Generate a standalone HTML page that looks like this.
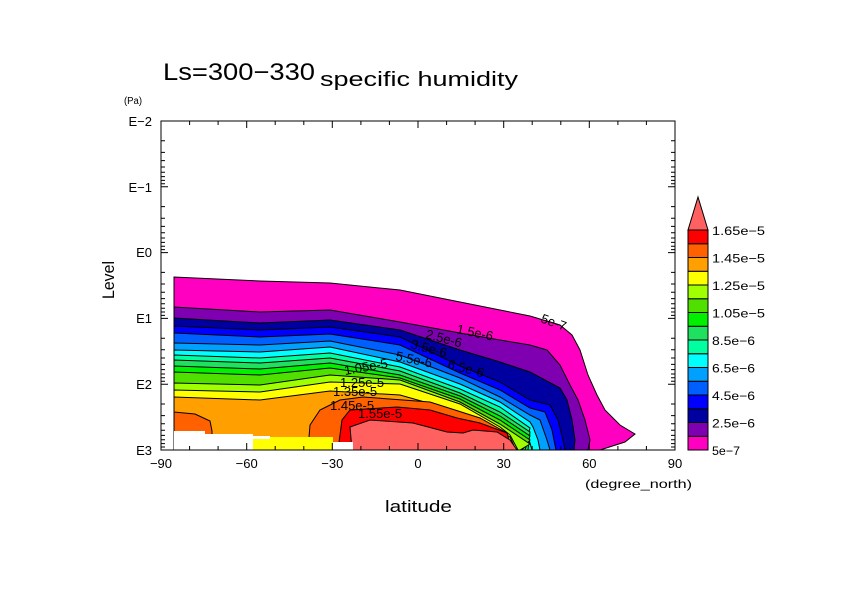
<!DOCTYPE html>
<html><head><meta charset="utf-8"><style>
body{margin:0;background:#fff}
svg{display:block;font-family:"Liberation Sans",sans-serif}
</style></head><body>
<svg id="s" width="842" height="595" viewBox="0 0 842 595" xmlns="http://www.w3.org/2000/svg">
<rect width="842" height="595" fill="#fff"/>
<g id="fills"></g>
<g id="overlay">
<rect x="174" y="431" width="31" height="20" fill="#fff"/>
<rect x="205" y="434" width="48" height="17" fill="#fff"/>
<rect x="253" y="437" width="80" height="13" fill="#ffff00"/>
<rect x="253" y="436" width="17" height="3" fill="#fff"/>
<rect x="333" y="442" width="20" height="9" fill="#fff"/>
</g>
<g font-size="13" fill="#000">
<text x="540" y="322" transform="rotate(20 540 322)">5e-7</text>
<text x="456" y="333" transform="rotate(12 456 333)">1.5e-6</text>
<text x="425" y="338" transform="rotate(15 425 338)">2.5e-6</text>
<text x="410" y="348" transform="rotate(15 410 348)">3.5e-6</text>
<text x="447" y="368" transform="rotate(15 447 368)">6.5e-6</text>
<text x="395" y="360" transform="rotate(12 395 360)">5.5e-6</text>
<text x="345" y="375" transform="rotate(-10 345 375)">1.05e-5</text>
<text x="340" y="387">1.25e-5</text>
<text x="333" y="396">1.35e-5</text>
<text x="330" y="410">1.45e-5</text>
<text x="358" y="418">1.55e-5</text>
</g>
<g stroke="#000" fill="none" stroke-width="1">
<rect x="161" y="121" width="514" height="329"/>
<path d="M161,450v-7M189.6,450v-4M218.1,450v-4M246.7,450v-7M275.2,450v-4M303.8,450v-4M332.3,450v-7M360.9,450v-4M389.4,450v-4M418,450v-7M446.6,450v-4M475.1,450v-4M503.7,450v-7M532.2,450v-4M560.8,450v-4M589.3,450v-7M617.9,450v-4M646.4,450v-4M675,450v-7"/>
<path transform="translate(0,571) scale(1,-1)" d="M161,450v-7M189.6,450v-4M218.1,450v-4M246.7,450v-7M275.2,450v-4M303.8,450v-4M332.3,450v-7M360.9,450v-4M389.4,450v-4M418,450v-7M446.6,450v-4M475.1,450v-4M503.7,450v-7M532.2,450v-4M560.8,450v-4M589.3,450v-7M617.9,450v-4M646.4,450v-4M675,450v-7"/>
<path d="M161,121h7M161,140.8h4M161,152.4h4M161,160.6h4M161,167h4M161,172.2h4M161,176.6h4M161,180.4h4M161,183.8h4
M161,186.8h7M161,206.6h4M161,218.2h4M161,226.4h4M161,232.8h4M161,238h4M161,242.4h4M161,246.2h4M161,249.6h4
M161,252.6h7M161,272.4h4M161,284h4M161,292.2h4M161,298.6h4M161,303.8h4M161,308.2h4M161,312h4M161,315.4h4
M161,318.4h7M161,338.2h4M161,349.8h4M161,358h4M161,364.4h4M161,369.6h4M161,374h4M161,377.8h4M161,381.2h4
M161,384.2h7M161,404h4M161,415.6h4M161,423.8h4M161,430.2h4M161,435.4h4M161,439.8h4M161,443.6h4M161,447h4M161,450h7"/>
<path transform="translate(836,0) scale(-1,1)" d="M161,121h7M161,140.8h4M161,152.4h4M161,160.6h4M161,167h4M161,172.2h4M161,176.6h4M161,180.4h4M161,183.8h4
M161,186.8h7M161,206.6h4M161,218.2h4M161,226.4h4M161,232.8h4M161,238h4M161,242.4h4M161,246.2h4M161,249.6h4
M161,252.6h7M161,272.4h4M161,284h4M161,292.2h4M161,298.6h4M161,303.8h4M161,308.2h4M161,312h4M161,315.4h4
M161,318.4h7M161,338.2h4M161,349.8h4M161,358h4M161,364.4h4M161,369.6h4M161,374h4M161,377.8h4M161,381.2h4
M161,384.2h7M161,404h4M161,415.6h4M161,423.8h4M161,430.2h4M161,435.4h4M161,439.8h4M161,443.6h4M161,447h4M161,450h7"/>
</g>
<g font-size="13" fill="#000">
<text x="163" y="80" font-size="24" textLength="152" lengthAdjust="spacingAndGlyphs">Ls=300−330</text>
<text x="320" y="86" font-size="20" textLength="198" lengthAdjust="spacingAndGlyphs">specific humidity</text>
<text x="124" y="104" font-size="10" textLength="18" lengthAdjust="spacingAndGlyphs">(Pa)</text>
<text x="114" y="280" font-size="17" transform="rotate(-90 114 280)" text-anchor="middle" textLength="38" lengthAdjust="spacingAndGlyphs">Level</text>
<text x="385" y="512" font-size="17" textLength="67" lengthAdjust="spacingAndGlyphs">latitude</text>
<text x="585" y="488" font-size="12" textLength="107" lengthAdjust="spacingAndGlyphs">(degree_north)</text>
<g text-anchor="middle">
<text x="161" y="468">−90</text><text x="246.7" y="468">−60</text><text x="332.3" y="468">−30</text>
<text x="418" y="468">0</text><text x="503.7" y="468">30</text><text x="589.3" y="468">60</text><text x="675" y="468">90</text>
</g>
<g text-anchor="end">
<text x="152" y="126">E−2</text><text x="152" y="192">E−1</text><text x="152" y="257">E0</text>
<text x="152" y="323">E1</text><text x="152" y="389">E2</text><text x="152" y="455">E3</text>
</g>
</g>
<g stroke="#000" stroke-width="1">
<rect x="688" y="436.25" width="20" height="13.75" fill="#ff00c0"/>
<rect x="688" y="422.5" width="20" height="13.75" fill="#7f00b0"/>
<rect x="688" y="408.75" width="20" height="13.75" fill="#0000a0"/>
<rect x="688" y="395" width="20" height="13.75" fill="#0000ff"/>
<rect x="688" y="381.25" width="20" height="13.75" fill="#0060ff"/>
<rect x="688" y="367.5" width="20" height="13.75" fill="#00a0ff"/>
<rect x="688" y="353.75" width="20" height="13.75" fill="#00ffff"/>
<rect x="688" y="340" width="20" height="13.75" fill="#00ffa0"/>
<rect x="688" y="326.25" width="20" height="13.75" fill="#20e060"/>
<rect x="688" y="312.5" width="20" height="13.75" fill="#00f000"/>
<rect x="688" y="298.75" width="20" height="13.75" fill="#50e000"/>
<rect x="688" y="285" width="20" height="13.75" fill="#a0ff00"/>
<rect x="688" y="271.25" width="20" height="13.75" fill="#ffff00"/>
<rect x="688" y="257.5" width="20" height="13.75" fill="#ffa000"/>
<rect x="688" y="243.75" width="20" height="13.75" fill="#ff6000"/>
<rect x="688" y="230" width="20" height="13.75" fill="#ff0000"/>
<path d="M688,230L708,230L698,197Z" fill="#ff6060"/>
</g>
<g font-size="12" fill="#000">
<text x="712" y="455" textLength="28" lengthAdjust="spacingAndGlyphs">5e−7</text>
<text x="712" y="427.5" textLength="43" lengthAdjust="spacingAndGlyphs">2.5e−6</text>
<text x="712" y="400" textLength="43" lengthAdjust="spacingAndGlyphs">4.5e−6</text>
<text x="712" y="372.5" textLength="43" lengthAdjust="spacingAndGlyphs">6.5e−6</text>
<text x="712" y="345" textLength="43" lengthAdjust="spacingAndGlyphs">8.5e−6</text>
<text x="712" y="317.5" textLength="53" lengthAdjust="spacingAndGlyphs">1.05e−5</text>
<text x="712" y="290" textLength="53" lengthAdjust="spacingAndGlyphs">1.25e−5</text>
<text x="712" y="262.5" textLength="53" lengthAdjust="spacingAndGlyphs">1.45e−5</text>
<text x="712" y="235" textLength="53" lengthAdjust="spacingAndGlyphs">1.65e−5</text>
</g>
</svg>
<script>
var NS="http://www.w3.org/2000/svg";
var G=document.getElementById("fills");
function addp(d,fill){var e=document.createElementNS(NS,"path");e.setAttribute("d",d);e.setAttribute("fill",fill);e.setAttribute("stroke","#000");G.appendChild(e);}
var cols=["#ff00c0","#7f00b0","#0000a0","#0000ff","#0060ff","#00a0ff","#00ffff","#00ffa0","#20e060","#00f000","#50e000","#a0ff00","#ffff00","#ffa000","#ff6000","#ff0000","#ff6060"];
var X=[174,260,330,400,460,500,530];
var T=[
[277,281,283,290,302,310,316],
[307,312,310,322,333,340,345],
[318,323,320,330,350,362,372],
[326,330,327,337,366,382,400],
[333,337,334,345,373,390,408],
[343,345,341,355,378,397,415],
[350,352,347,362,384,402,422],
[355,358,353,367,389,407,428],
[360,363,358,371,393,412,432],
[366,369,363,375,396,416,436],
[372,375,368,378,399,420,440],
[383,385,375,380,402,424,444],
[390,392,382,384,404,427],
[397,400,391,395,412,430]];
var R=[
[[560,325],[572,335],[580,350],[588,375],[597,395],[605,410],[620,425],[635,434],[625,442],[600,450]],
[[547,350],[560,365],[570,385],[578,400],[585,420],[590,440],[588,450]],
[[560,388],[567,400],[572,420],[575,440],[574,450]],
[[550,405],[558,420],[563,440],[565,450]],
[[545,412],[552,430],[556,450]],
[[540,420],[547,440],[550,450]],
[[533,427],[538,440],[540,450]],
[[528,436],[532,450]],
[[528,450]],
[[525,450]],
[[522,450]],
[[520,450]],
[[510,435],[518,450]],
[[510,437],[516,450]]];
function path(pts){var s="M";for(var i=0;i<pts.length;i++){s+=(i?"L":"")+pts[i][0]+","+pts[i][1];}return s+"Z";}
for(var k=0;k<14;k++){
 var pts=[[174,450]];
 for(var i=0;i<T[k].length;i++)pts.push([X[i],T[k][i]]);
 pts=pts.concat(R[k]);
 addp(path(pts),cols[k]);
}
addp(path([[174,450],[174,412],[195,414],[210,421],[212,431],[212,450]]),cols[14]);
addp(path([[308,450],[310,425],[320,410],[340,400],[363,397],[430,402],[480,418],[505,432],[514,450]]),cols[14]);
addp(path([[338,450],[342,420],[350,410],[397,407],[430,410],[457,418],[480,423],[507,433],[512,450]]),cols[15]);
addp(path([[352,450],[350,427],[370,420],[413,423],[447,432],[463,433],[473,430],[497,432],[510,440],[517,450]]),cols[16]);
</script>
</body></html>
